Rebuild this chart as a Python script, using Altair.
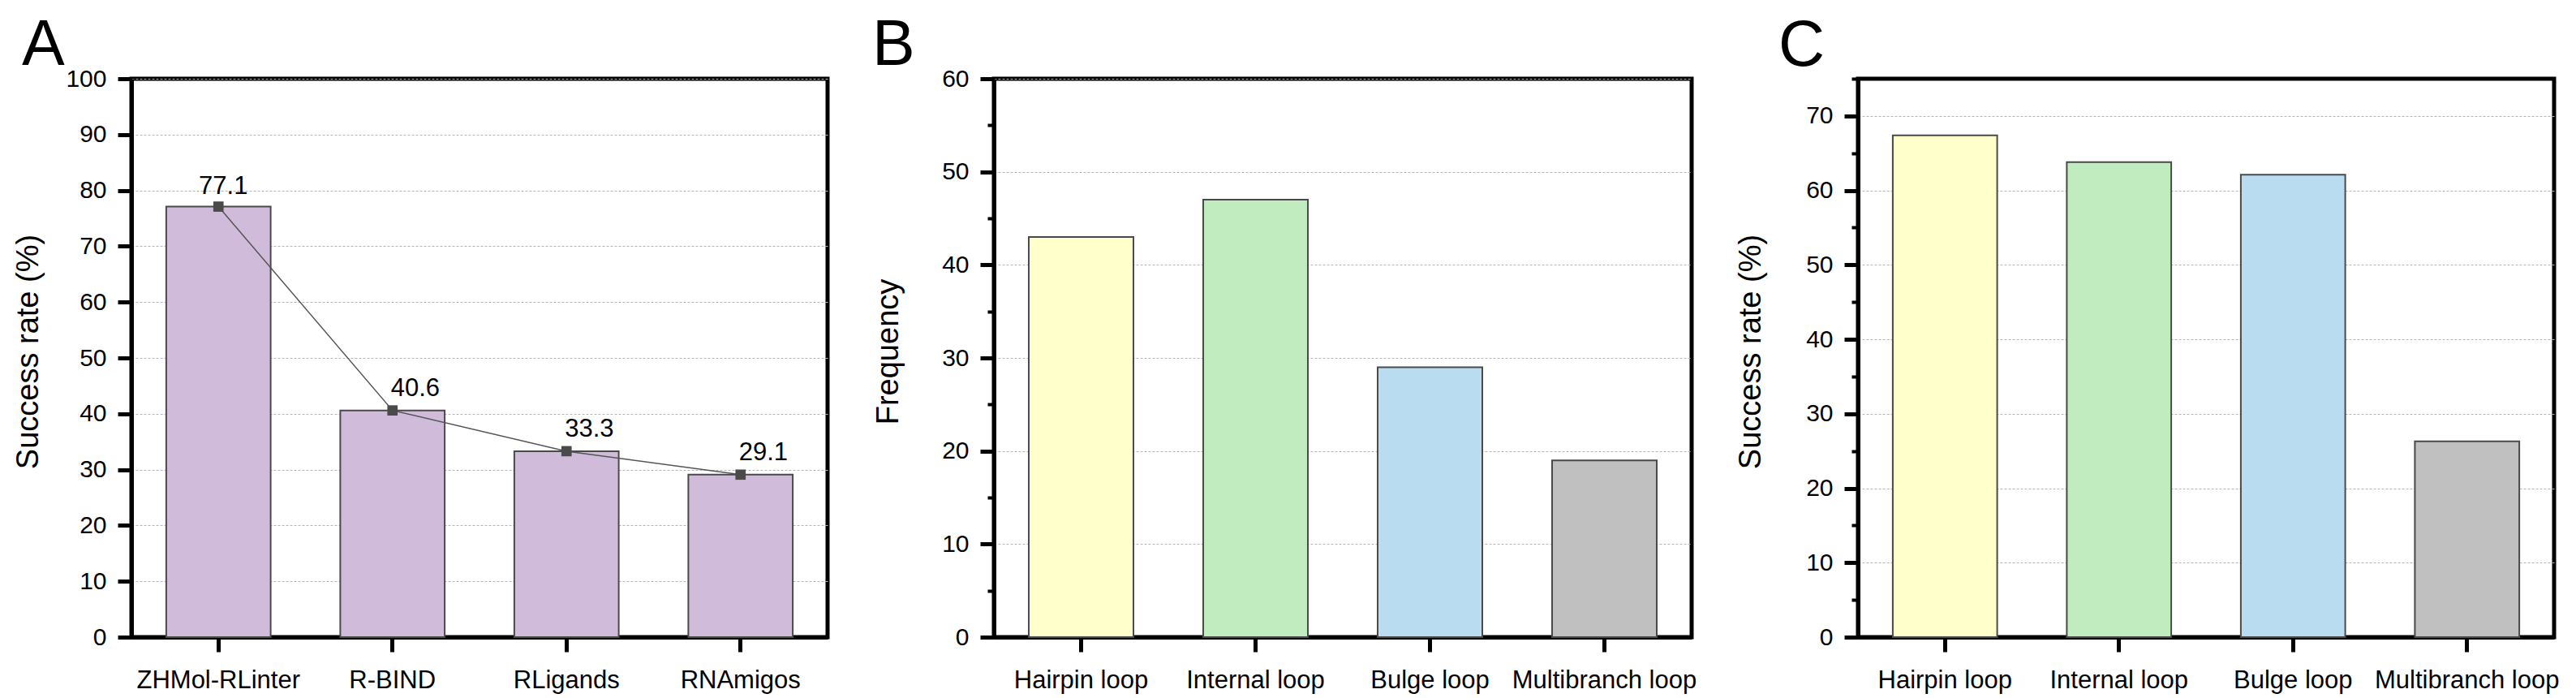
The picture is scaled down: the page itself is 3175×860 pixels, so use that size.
import altair as alt
import pandas as pd

# ---------------- data ----------------
methods = ["ZHMol-RLinter", "R-BIND", "RLigands", "RNAmigos"]
method_rates = [77.1, 40.6, 33.3, 29.1]

loops = ["Hairpin loop", "Internal loop", "Bulge loop", "Multibranch loop"]
loop_freq = [43, 47, 29, 19]
loop_rates = [67.4, 63.8, 62.1, 26.3]

loop_colors = ["#FFFFCC", "#C1ECBF", "#B9DCF1", "#C0C0C0"]
bar_purple = "#D0BBDA"

a_ticks = list(range(0, 101, 5))
b_ticks = list(range(0, 61, 5))
c_ticks = list(range(0, 76, 5))

FONT = "Liberation Sans"
W, H = 858, 688

df_a = pd.DataFrame({"method": methods, "rate": method_rates})
df_a["label"] = [f"{v:.1f}" for v in method_rates]
df_b = pd.DataFrame({"loop": loops, "freq": loop_freq})
df_c = pd.DataFrame({"loop": loops, "rate": loop_rates})

MAJOR = "datum.value % 10 == 0"


def y_axis(title, ticks, title_x):
    return alt.Axis(
        title=title,
        values=ticks,
        labelExpr=f"{MAJOR} ? datum.label : ''",
        labelFontSize=30,
        labelPadding=14,
        tickSize={"condition": {"test": MAJOR, "value": 17}, "value": 8},
        tickWidth={"condition": {"test": MAJOR, "value": 5}, "value": 4},
        grid=True,
        gridOpacity={"condition": {"test": f"{MAJOR} && datum.value > 0", "value": 1}, "value": 0},
        titleX=title_x,
        titleY=H / 2 - 8,
        titleAngle=-90,
        titleAlign="center",
        titleBaseline="alphabetic",
    )


def x_axis():
    return alt.Axis(
        title=None,
        labelAngle=0,
        labelFontSize=31,
        labelPadding=20,
        labelLimit=0,
        labelOverlap=False,
        tickSize=18,
        tickWidth=5,
        grid=False,
    )


def panel_title(letter, dx, offset):
    return alt.TitleParams(
        letter,
        anchor="start",
        frame="group",
        fontSize=79,
        fontWeight="normal",
        font=FONT,
        color="black",
        dx=dx,
        offset=offset,
        baseline="alphabetic",
    )


band = alt.Scale(paddingInner=0.4, paddingOuter=0.2)

# ---------------- panel A ----------------
base_a = alt.Chart(df_a)
bars_a = base_a.mark_bar(color=bar_purple, stroke="#4A4A4A", strokeWidth=2).encode(
    x=alt.X("method:N", sort=methods, scale=band, axis=x_axis()),
    y=alt.Y("rate:Q", scale=alt.Scale(domain=[0, 100], nice=False),
            axis=y_axis("Success rate (%)", a_ticks, -116)),
)
line_a = base_a.mark_line(color="#555555", strokeWidth=1.5).encode(
    x=alt.X("method:N", sort=methods), y="rate:Q")
pts_a = base_a.mark_square(size=160, color="#4A4A4A", opacity=1).encode(
    x=alt.X("method:N", sort=methods), y="rate:Q")
txt_first = base_a.transform_filter(alt.datum.method == methods[0]).mark_text(
    fontSize=31, font=FONT, color="black", align="center", baseline="alphabetic", dx=6, dy=-16
).encode(x=alt.X("method:N", sort=methods), y="rate:Q", text="label:N")
txt_rest = base_a.transform_filter(alt.datum.method != methods[0]).mark_text(
    fontSize=31, font=FONT, color="black", align="left", baseline="alphabetic", dx=-2, dy=-18
).encode(x=alt.X("method:N", sort=methods), y="rate:Q", text="label:N")

chart_a = alt.layer(bars_a, line_a, pts_a, txt_first, txt_rest).properties(
    width=W, height=H, title=panel_title("A", -135, -77))

# ---------------- panel B ----------------
chart_b = alt.Chart(df_b).mark_bar(stroke="#4A4A4A", strokeWidth=2).encode(
    x=alt.X("loop:N", sort=loops, scale=band, axis=x_axis()),
    y=alt.Y("freq:Q", scale=alt.Scale(domain=[0, 60], nice=False),
            axis=y_axis("Frequency", b_ticks, -119)),
    color=alt.Color("loop:N", scale=alt.Scale(domain=loops, range=loop_colors), legend=None),
).properties(width=860, height=H, title=panel_title("B", -150, -77))

# ---------------- panel C ----------------
chart_c = alt.Chart(df_c).mark_bar(stroke="#4A4A4A", strokeWidth=2).encode(
    x=alt.X("loop:N", sort=loops, scale=band, axis=x_axis()),
    y=alt.Y("rate:Q", scale=alt.Scale(domain=[0, 75], nice=False),
            axis=y_axis("Success rate (%)", c_ticks, -121)),
    color=alt.Color("loop:N", scale=alt.Scale(domain=loops, range=loop_colors), legend=None),
).properties(width=W, height=H, title=panel_title("C", -98, -65))

chart = alt.hconcat(chart_a, chart_b, chart_c, spacing=205, bounds="flush").properties(
    padding={"left": 5, "top": 6, "right": 5, "bottom": 0}
).configure(
    font=FONT,
    background="white",
).configure_view(
    stroke="black", strokeWidth=5
).configure_axis(
    domainColor="black",
    domainWidth=5,
    tickColor="black",
    labelColor="black",
    labelFont=FONT,
    titleFont=FONT,
    titleFontSize=38,
    titleFontWeight="normal",
    titleColor="black",
    gridColor="#B4B4B4",
    gridWidth=1,
    gridDash=[3, 2],
)

chart.save("out.html", embed_options={"renderer": "svg", "actions": False})
